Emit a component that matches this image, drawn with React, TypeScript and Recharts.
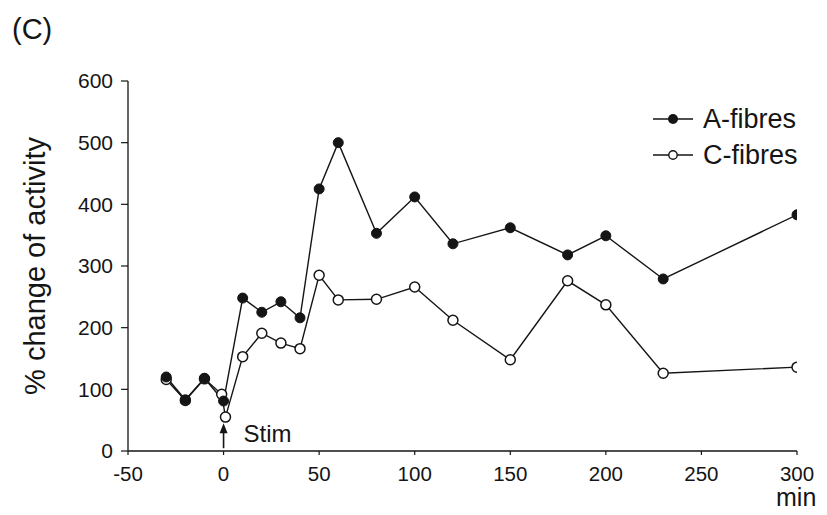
import React from 'react';
import { LineChart, Line, XAxis, YAxis, ReferenceDot } from 'recharts';

// minutes relative to stimulation
const aTimes = [-30, -20, -10, 0, 10, 20, 30, 40, 50, 60, 80, 100, 120, 150, 180, 200, 230, 300];
const aValues = [120, 83, 118, 81, 248, 225, 242, 216, 425, 500, 353, 412, 336, 362, 318, 349, 279, 383];

const cTimes = [-30, -20, -10, -1, 1, 10, 20, 30, 40, 50, 60, 80, 100, 120, 150, 180, 200, 230, 300];
const cValues = [116, 82, 117, 92, 55, 153, 191, 175, 166, 285, 245, 246, 266, 212, 148, 276, 237, 126, 136];

const xTicks = [-50, 0, 50, 100, 150, 200, 250, 300];
const yTicks = [0, 100, 200, 300, 400, 500, 600];

const aData = aTimes.map((x, i) => ({ x, y: aValues[i] }));
const cData = cTimes.map((x, i) => ({ x, y: cValues[i] }));

const FONT = 'Arial, "Liberation Sans", Helvetica, sans-serif';
const INK = '#151515';

const FilledDot = ({ cx, cy }: any) => <circle cx={cx} cy={cy} r={5} fill={INK} stroke={INK} strokeWidth={1} />;
const OpenDot = ({ cx, cy }: any) => <circle cx={cx} cy={cy} r={5} fill="#fff" stroke={INK} strokeWidth={1.5} />;

const StimMark = ({ cx, cy }: any) => (
  <g>
    <line x1={cx} y1={cy + 12} x2={cx} y2={cy - 8} stroke={INK} strokeWidth={1.6} />
    <path d={`M${cx - 4},${cy - 3} L${cx},${cy - 13} L${cx + 4},${cy - 3} Z`} fill={INK} />
    <text x={cx + 20} y={cy + 6} fontSize={24} fill={INK} fontFamily={FONT}>Stim</text>
  </g>
);

const LegendBox = () => (
  <svg width={180} height={70} style={{ display: 'block' }}>
    <line x1={3} y1={14} x2={43} y2={14} stroke={INK} strokeWidth={1.4} />
    <circle cx={23} cy={14} r={5} fill={INK} />
    <text x={53} y={23} fontSize={27} fill={INK} fontFamily={FONT}>A-fibres</text>
    <line x1={3} y1={50} x2={43} y2={50} stroke={INK} strokeWidth={1.4} />
    <circle cx={23} cy={50} r={4.2} fill="#fff" stroke={INK} strokeWidth={1.4} />
    <text x={53} y={59} fontSize={27} fill={INK} fontFamily={FONT}>C-fibres</text>
  </svg>
);

export default function App() {
  return (
    <div style={{ position: 'absolute', left: 0, top: 0, width: 827, height: 515, background: '#fff' }}>
      <div style={{ position: 'absolute', left: 12, top: 12, fontSize: 29, lineHeight: '34px', fontFamily: FONT, color: INK }}>(C)</div>
      <div style={{ position: 'absolute', left: 776, top: 485, fontSize: 25, lineHeight: '25px', fontFamily: FONT, color: INK }}>min</div>
      <div style={{ position: 'absolute', left: 650, top: 105 }}>
        <LegendBox />
      </div>
      <LineChart width={827} height={515} margin={{ top: 81, right: 30, bottom: 34, left: 68 }}>
        <XAxis
          dataKey="x"
          type="number"
          domain={[-50, 300]}
          ticks={xTicks}
          allowDataOverflow
          tickSize={4}
          tickMargin={11}
          tick={{ fontSize: 20.5, fill: INK, fontFamily: FONT }}
          tickLine={{ stroke: INK, strokeWidth: 1.2 }}
          height={30}
          axisLine={{ stroke: INK, strokeWidth: 1.3 }}
        />
        <YAxis
          type="number"
          domain={[0, 600]}
          ticks={yTicks}
          width={60}
          tickSize={7}
          tickMargin={8}
          tick={{ fontSize: 21, fill: INK, fontFamily: FONT }}
          tickLine={{ stroke: INK, strokeWidth: 1.2 }}
          axisLine={{ stroke: INK, strokeWidth: 1.3 }}
          label={{
            content: () => (
              <text transform="translate(45,266) rotate(-90)" textAnchor="middle" fontSize={29} fill={INK} fontFamily={FONT}>
                % change of activity
              </text>
            ),
          }}
        />
        <Line
          data={cData}
          dataKey="y"
          name="C-fibres"
          stroke={INK}
          strokeWidth={1.4}
          dot={<OpenDot />}
          activeDot={false}
          isAnimationActive={false}
        />
        <Line
          data={aData}
          dataKey="y"
          name="A-fibres"
          stroke={INK}
          strokeWidth={1.4}
          dot={<FilledDot />}
          activeDot={false}
          isAnimationActive={false}
        />
        <ReferenceDot x={0} y={24} r={0} shape={<StimMark />} ifOverflow="visible" />
      </LineChart>
    </div>
  );
}
